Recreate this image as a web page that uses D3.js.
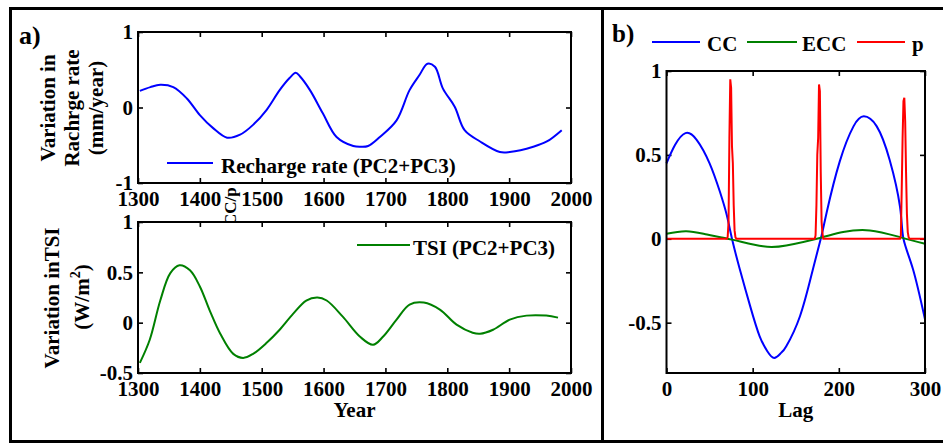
<!DOCTYPE html>
<html>
<head>
<meta charset="utf-8">
<script src="https://cdn.jsdelivr.net/npm/d3@7"></script>
<style>
  body { margin: 0; background: #fff; }
  svg text { font-family: "Liberation Serif", "Times New Roman", serif; font-weight: bold; fill: #000; }
</style>
</head>
<body>
<svg id="chart" width="943" height="445"></svg>
<script>
// Panel a (top): recharge rate, PC2+PC3 reconstruction
const rechargeYears  = [1303, 1320, 1336, 1357, 1379, 1400, 1421, 1444, 1465, 1486, 1508, 1529, 1545, 1555, 1562, 1578, 1599, 1621, 1648, 1660, 1672, 1691, 1718, 1739, 1755, 1768, 1780, 1793, 1812, 1828, 1853, 1885, 1901, 1939, 1961, 1985];
const rechargeValues = [0.22, 0.27, 0.30, 0.27, 0.12, -0.10, -0.27, -0.40, -0.36, -0.23, -0.03, 0.23, 0.39, 0.46, 0.41, 0.23, -0.08, -0.39, -0.51, -0.52, -0.51, -0.39, -0.17, 0.23, 0.43, 0.58, 0.54, 0.25, 0.01, -0.30, -0.45, -0.59, -0.59, -0.52, -0.45, -0.30];

// Panel a (bottom): TSI, PC2+PC3 reconstruction
const tsiYears  = [1303, 1319, 1336, 1352, 1367, 1384, 1400, 1416, 1433, 1454, 1470, 1486, 1508, 1529, 1551, 1572, 1590, 1605, 1631, 1659, 1680, 1696, 1718, 1739, 1762, 1788, 1815, 1841, 1853, 1874, 1901, 1928, 1960, 1979];
const tsiValues = [-0.40, -0.17, 0.22, 0.49, 0.57, 0.52, 0.36, 0.12, -0.11, -0.31, -0.35, -0.31, -0.20, -0.07, 0.09, 0.22, 0.25, 0.22, 0.06, -0.14, -0.22, -0.14, 0.03, 0.18, 0.20, 0.13, -0.02, -0.10, -0.11, -0.07, 0.03, 0.07, 0.07, 0.05];

// Panel b: cross-correlation (CC), its expected value (ECC) and p
const ccLag    = [0, 10, 22, 35, 50, 62, 70, 76, 85, 97, 108, 117, 125, 133, 139, 155, 170, 180, 186, 201, 217, 229, 244, 259, 271, 275, 286, 300];
const ccValues = [0.45, 0.56, 0.63, 0.59, 0.45, 0.28, 0.14, 0.0, -0.18, -0.40, -0.58, -0.67, -0.71, -0.68, -0.64, -0.46, -0.18, 0.02, 0.16, 0.46, 0.67, 0.73, 0.67, 0.47, 0.19, 0.0, -0.18, -0.48];

const eccLag    = [0, 23, 47, 76, 112, 139, 178, 205, 236, 271, 300];
const eccValues = [0.03, 0.045, 0.025, -0.005, -0.045, -0.04, 0.005, 0.04, 0.05, 0.01, -0.03];

const pLag    = [0, 70, 71, 72, 73, 74, 75, 76, 77, 78, 79, 80, 81, 172, 173, 174, 175, 176, 177, 178, 179, 180, 181, 182, 271, 272, 273, 274, 275, 276, 277, 278, 279, 280, 281, 282, 300];
const pValues = [0, 0, 0.01, 0.1, 0.6, 0.95, 0.9, 0.55, 0.45, 0.2, 0.05, 0.01, 0, 0, 0.02, 0.2, 0.5, 0.6, 0.92, 0.88, 0.4, 0.1, 0.03, 0, 0, 0.02, 0.3, 0.6, 0.82, 0.84, 0.7, 0.4, 0.15, 0.04, 0.01, 0, 0];

// Tick labels
const yearTicks = [1300, 1400, 1500, 1600, 1700, 1800, 1900, 2000];
const rechargeTicks = [-1, 0, 1];
const tsiTicks = [-0.5, 0, 0.5, 1];
const lagTicks = [0, 100, 200, 300];
const corrTicks = [-0.5, 0, 0.5, 1];

const BLUE = "#0000ff", GREEN = "#008000", RED = "#ff0000";
const FS = "21px";
const svg = d3.select("#chart");

function zip(xs, ys) { return xs.map((x, i) => [x, ys[i]]); }

// Boxed axes with inward ticks on all four sides
function boxAxes(g, x, y, xt, yt, fmtY) {
  const [x0, x1] = x.range(), [y0, y1] = y.range();
  g.append("rect").attr("x", x0).attr("y", y1).attr("width", x1 - x0).attr("height", y0 - y1)
    .attr("fill", "#fff");
  const styleAxis = a => {
    a.select(".domain").remove();
    a.selectAll("line").attr("stroke", "#000").attr("stroke-width", 1.6);
    a.selectAll("text").style("font-size", FS).attr("fill", "#000");
  };
  g.append("g").attr("transform", `translate(0,${y0})`)
    .call(d3.axisBottom(x).tickValues(xt).tickSize(-5).tickPadding(8).tickFormat(d3.format("d")))
    .call(styleAxis);
  g.append("g").attr("transform", `translate(0,${y1})`)
    .call(d3.axisTop(x).tickValues(xt).tickSize(-5).tickFormat(""))
    .call(styleAxis);
  g.append("g").attr("transform", `translate(${x0},0)`)
    .call(d3.axisLeft(y).tickValues(yt).tickSize(-5).tickPadding(5).tickFormat(fmtY))
    .call(styleAxis);
  g.append("g").attr("transform", `translate(${x1},0)`)
    .call(d3.axisRight(y).tickValues(yt).tickSize(-5).tickFormat(""))
    .call(styleAxis);
  g.selectAll(".tick text").attr("font-family", null);
}
function frame(g, x, y) {
  const [x0, x1] = x.range(), [y0, y1] = y.range();
  g.append("rect").attr("x", x0).attr("y", y1).attr("width", x1 - x0).attr("height", y0 - y1)
    .attr("fill", "none").attr("stroke", "#000").attr("stroke-width", 2);
}
const fmtTick = d => String(d);

// Outer panel frames
const border = svg.append("g").attr("stroke", "#000").attr("stroke-width", 3).attr("fill", "none");
border.append("line").attr("x1", 10).attr("x2", 943).attr("y1", 8.5).attr("y2", 8.5);
border.append("line").attr("x1", 10).attr("x2", 943).attr("y1", 441.5).attr("y2", 441.5);
border.append("line").attr("x1", 10.5).attr("x2", 10.5).attr("y1", 7).attr("y2", 443);
border.append("line").attr("x1", 602.5).attr("x2", 602.5).attr("y1", 7).attr("y2", 443);

svg.append("text").attr("x", 19).attr("y", 44).style("font-size", "26px").text("a)");
svg.append("text").attr("x", 612).attr("y", 42).style("font-size", "25px").text("b)");

// ---------- Panel a, top: recharge rate ----------
const xYear = d3.scaleLinear().domain([1300, 2000]).range([138, 571]);
const yRech = d3.scaleLinear().domain([-1, 1]).range([183, 32]);
const gTop = svg.append("g");
boxAxes(gTop, xYear, yRech, yearTicks, rechargeTicks, fmtTick);
gTop.append("path").datum(zip(rechargeYears, rechargeValues))
  .attr("fill", "none").attr("stroke", BLUE).attr("stroke-width", 2)
  .attr("d", d3.line().x(d => xYear(d[0])).y(d => yRech(d[1])).curve(d3.curveCatmullRom));
frame(gTop, xYear, yRech);
gTop.append("line").attr("x1", 167).attr("x2", 213).attr("y1", 163).attr("y2", 163)
  .attr("stroke", BLUE).attr("stroke-width", 2);
gTop.append("text").attr("x", 221).attr("y", 173).style("font-size", FS).text("Recharge rate (PC2+PC3)");

[["Variation in", 48], ["Rachrge rate", 72], ["(mm/year)", 96]].forEach(([t, cx]) => {
  svg.append("text").attr("transform", `translate(${cx},108) rotate(-90)`)
    .attr("text-anchor", "middle").attr("dy", "0.35em").style("font-size", FS).text(t);
});

// stray y label of panel b, partly hidden under the lower axes
svg.append("text").attr("transform", "translate(236,226) rotate(-90)")
  .style("font-size", "17px").text("CC/p");

// ---------- Panel a, bottom: TSI ----------
const yTsi = d3.scaleLinear().domain([-0.5, 1]).range([373, 222]);
const gBot = svg.append("g");
boxAxes(gBot, xYear, yTsi, yearTicks, tsiTicks, fmtTick);
gBot.append("path").datum(zip(tsiYears, tsiValues))
  .attr("fill", "none").attr("stroke", GREEN).attr("stroke-width", 2)
  .attr("d", d3.line().x(d => xYear(d[0])).y(d => yTsi(d[1])).curve(d3.curveCatmullRom));
frame(gBot, xYear, yTsi);
gBot.append("line").attr("x1", 357).attr("x2", 410).attr("y1", 245).attr("y2", 245)
  .attr("stroke", GREEN).attr("stroke-width", 2);
gBot.append("text").attr("x", 413).attr("y", 255).style("font-size", FS).text("TSI (PC2+PC3)");
svg.append("text").attr("x", (138 + 571) / 2).attr("y", 417).attr("text-anchor", "middle")
  .style("font-size", FS).text("Year");

svg.append("text").attr("transform", "translate(52,298) rotate(-90)")
  .attr("text-anchor", "middle").attr("dy", "0.35em").style("font-size", FS).text("Variation inTSI");
const wm = svg.append("text").attr("transform", "translate(82,297) rotate(-90)")
  .attr("text-anchor", "middle").attr("dy", "0.35em").style("font-size", FS);
wm.append("tspan").text("(W/m");
wm.append("tspan").attr("dy", "-9").style("font-size", "14px").text("2");
wm.append("tspan").attr("dy", "9").text(")");

// ---------- Panel b: CC, ECC, p ----------
const xLag = d3.scaleLinear().domain([0, 300]).range([666.5, 925]);
const yCor = d3.scaleLinear().domain([-0.8, 1]).range([373, 71]);
const gR = svg.append("g");
boxAxes(gR, xLag, yCor, lagTicks, corrTicks, fmtTick);
const lineR = curve => d3.line().x(d => xLag(d[0])).y(d => yCor(d[1])).curve(curve);
gR.append("path").datum(zip(ccLag, ccValues))
  .attr("fill", "none").attr("stroke", BLUE).attr("stroke-width", 2)
  .attr("d", lineR(d3.curveNatural));
gR.append("path").datum(zip(eccLag, eccValues))
  .attr("fill", "none").attr("stroke", GREEN).attr("stroke-width", 2)
  .attr("d", lineR(d3.curveNatural));
gR.append("path").datum(zip(pLag, pValues))
  .attr("fill", "none").attr("stroke", RED).attr("stroke-width", 2)
  .attr("d", lineR(d3.curveLinear));
frame(gR, xLag, yCor);
svg.append("text").attr("x", (666.5 + 925) / 2).attr("y", 417).attr("text-anchor", "middle")
  .style("font-size", FS).text("Lag");

const legendB = [["CC", BLUE, 652, 700, 707], ["ECC", GREEN, 747, 797, 802], ["p", RED, 857, 905, 912]];
legendB.forEach(([t, c, a, b, tx]) => {
  svg.append("line").attr("x1", a).attr("x2", b).attr("y1", 42).attr("y2", 42)
    .attr("stroke", c).attr("stroke-width", 2);
  svg.append("text").attr("x", tx).attr("y", 51).style("font-size", FS).text(t);
});
</script>
</body>
</html>
